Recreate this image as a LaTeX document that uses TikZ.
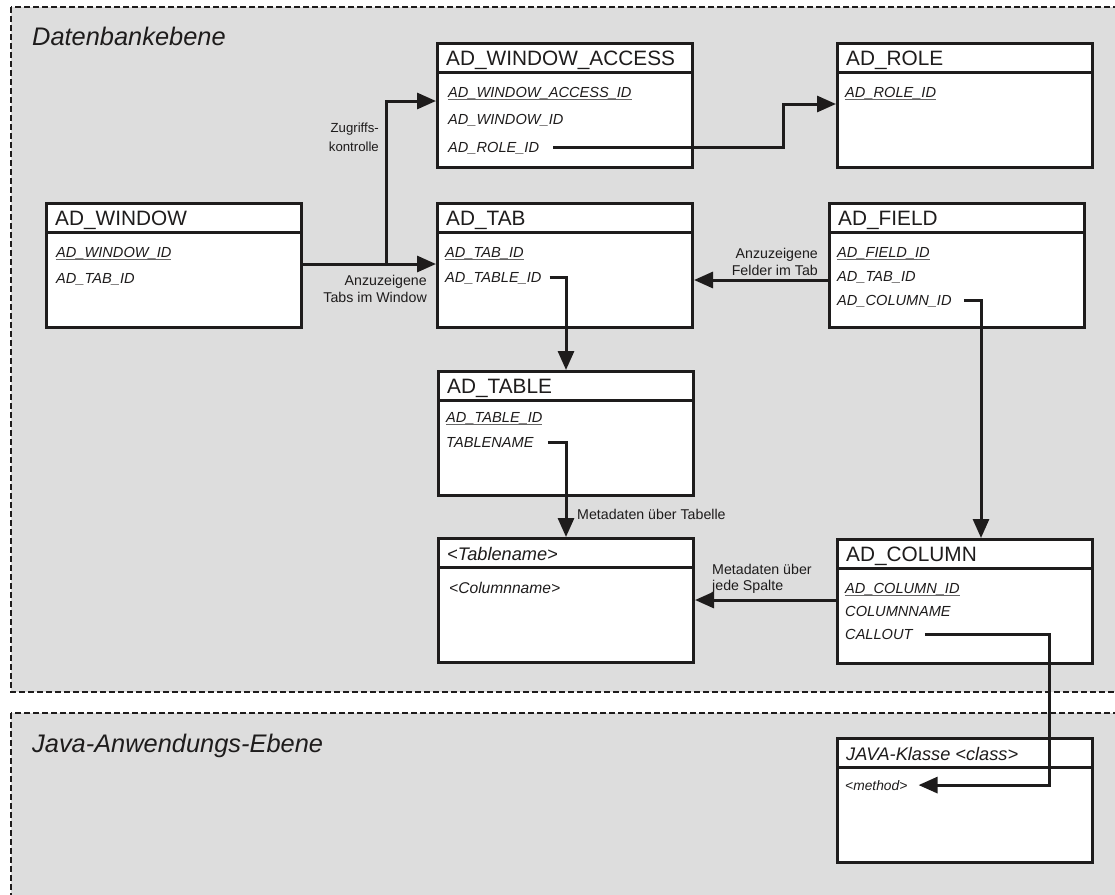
\documentclass[tikz,border=0pt]{standalone}
\usepackage{fontspec}
\setmainfont{Liberation Sans}
\usetikzlibrary{arrows.meta,calc}

\definecolor{regiongray}{RGB}{221,221,221}
\definecolor{ink}{RGB}{30,28,28}

% font sizes
\newcommand\erTitleFont{\fontsize{20.8}{24}\selectfont}
\newcommand\erITitleFont{\fontsize{18.2}{22}\selectfont\itshape}
\newcommand\erFieldFont{\fontsize{14.6}{17}\selectfont\itshape}
\newcommand\erLabelFont{\fontsize{14.2}{16.5}\selectfont}
\newcommand\erRegionFont{\fontsize{25.4}{30}\selectfont\itshape}

% primary key: text with a grey underline
\newcommand\pkey[1]{\setbox0\hbox{#1}\rlap{\color{black!60}\rule[-2.6pt]{\wd0}{0.9pt}}\box0}

\tikzset{
  region/.style={draw=ink, line width=2.8pt, dash pattern=on 6pt off 3pt, fill=regiongray},
  regiontitle/.style={anchor=base west, inner sep=0pt, text=ink, font=\erRegionFont},
  entity/.style={draw=ink, line width=3pt, fill=white, minimum width=255pt,
    minimum height=124pt, anchor=north west, inner sep=0pt},
  divider/.style={draw=ink, line width=3pt},
  ttl/.style={anchor=base west, inner sep=0pt, text=ink, font=\erTitleFont},
  ittl/.style={anchor=base west, inner sep=0pt, text=ink, font=\erITitleFont},
  fld/.style={anchor=base west, inner sep=0pt, text=ink, font=\erFieldFont},
  lbl/.style={inner sep=0pt, text=ink, font=\erLabelFont, align=right},
  arr/.style={draw=ink, line width=3pt, -{Triangle[length=19pt,width=16pt]}},
}

% entity box with header line and title
\newcommand\dbentity[4]{%
  \node[entity] (#1) at (#2) {};
  \draw[divider] ($(#1.north west)+(0,30)$) -- ($(#1.north east)+(0,30)$);
  \node[#3] (#1-t) at ($(#1.north west)+(10,23)$) {#4};
}
% attribute line: entity, row name, offset from top-left, text
\newcommand\dbfield[4]{%
  \node[fld] (#1-#2) at ($(#1.north west)+(#3)$) {#4};
}

\begin{document}
\begin{tikzpicture}[x=1pt,y=-1pt]
\useasboundingbox (0,0) rectangle (1115,894);
\clip (0,0) rectangle (1115,894);
\fill[white] (0,0) rectangle (1115,894);

% layers
\draw[region] (11,7) rectangle (1140,692);
\draw[region] (11,713) rectangle (1140,930);
\node[regiontitle] (dbtitle) at (32,45) {Datenbankebene};
\node[regiontitle] (javatitle) at (32,752) {Java-Anwendungs-Ebene};

% tables
\dbentity{wa}{436,42}{ttl}{AD\_WINDOW\_ACCESS}
\dbfield{wa}{f1}{12,55}{\pkey{AD\_WINDOW\_ACCESS\_ID}}
\dbfield{wa}{f2}{12,82}{AD\_WINDOW\_ID}
\dbfield{wa}{f3}{12,110}{AD\_ROLE\_ID}

\dbentity{role}{836,42}{ttl}{AD\_ROLE}
\dbfield{role}{f1}{9,55}{\pkey{AD\_ROLE\_ID}}

\dbentity{win}{45,202}{ttl}{AD\_WINDOW}
\dbfield{win}{f1}{11,55}{\pkey{AD\_WINDOW\_ID}}
\dbfield{win}{f2}{11,81}{AD\_TAB\_ID}

\dbentity{tab}{436,202}{ttl}{AD\_TAB}
\dbfield{tab}{f1}{9,55}{\pkey{AD\_TAB\_ID}}
\dbfield{tab}{f2}{9,80}{AD\_TABLE\_ID}

\dbentity{fld}{828,202}{ttl}{AD\_FIELD}
\dbfield{fld}{f1}{9,55}{\pkey{AD\_FIELD\_ID}}
\dbfield{fld}{f2}{9,79}{AD\_TAB\_ID}
\dbfield{fld}{f3}{9,103}{AD\_COLUMN\_ID}

\dbentity{tbl}{437,370}{ttl}{AD\_TABLE}
\dbfield{tbl}{f1}{9,52}{\pkey{AD\_TABLE\_ID}}
\dbfield{tbl}{f2}{9,77}{TABLENAME}

\dbentity{tn}{437,537}{ittl}{<Tablename>}
\dbfield{tn}{f1}{12,56}{\fontsize{15.6}{18}\selectfont <Columnname>}

\dbentity{col}{836,538}{ttl}{AD\_COLUMN}
\dbfield{col}{f1}{9,55}{\pkey{AD\_COLUMN\_ID}}
\dbfield{col}{f2}{9,78}{COLUMNNAME}
\dbfield{col}{f3}{9,101}{CALLOUT}

\dbentity{java}{836,737}{ittl}{JAVA-Klasse <class>}
\dbfield{java}{m}{9,53}{\fontsize{13.8}{16}\selectfont <method>}

% window -> tabs, with branch to window access
\coordinate (fork) at (386,264);
\coordinate (waIn) at ($(wa.north west)+(0,59)$);
\draw[arr] (win.east |- fork) -- (tab.west |- fork);
\draw[arr] (fork) |- (waIn);
\node[lbl, anchor=east, font=\fontsize{13.2}{19}\selectfont] (lblZ) at (379,137) {Zugriffs-\\kontrolle};
\node[lbl, anchor=east] (lblT) at (427,289) {Anzuzeigene\\Tabs im Window};

% window access -> role
\coordinate (roleIn) at ($(role.north west)+(0,62)$);
\coordinate (roleBend) at ($(roleIn)+(-53,0)$);
\draw[arr] ($(wa-f3.base east)+(14,-5)$) -| (roleBend) -- (roleIn);

% tab -> table
\draw[arr] ($(tab-f2.base east)+(8,-5)$) -| (tbl.north);

% field -> tab
\coordinate (fOut) at ($(fld.north west)+(0,78)$);
\draw[arr] (fOut) -- (fOut -| tab.east);
\node[lbl, anchor=east] (lblF) at (818,262) {Anzuzeigene\\Felder im Tab};

% field -> column
\draw[arr] ($(fld-f3.base east)+(12,-5)$) -| ($(col.north west)+(145,0)$);

% table -> physical table
\draw[arr] ($(tbl-f2.base east)+(14,-5)$) -| (tn.north);
\node[lbl, anchor=west] (lblM) at (577,514) {Metadaten über Tabelle};

% column -> physical column
\coordinate (cOut) at ($(col.north west)+(0,62)$);
\draw[arr] (cOut) -- (cOut -| tn.east);
\node[lbl, anchor=west, align=left] (lblS) at (712,579) {Metadaten über\\jede Spalte};

% callout -> java method
\coordinate (callX) at ($(col.north east)+(-45,0)$);
\coordinate (mIn) at ($(java-m.east)+(11,0)$);
\draw[arr] ($(col-f3.base east)+(12,-5)$) -| (callX |- mIn) -- (mIn);
\end{tikzpicture}
\end{document}
